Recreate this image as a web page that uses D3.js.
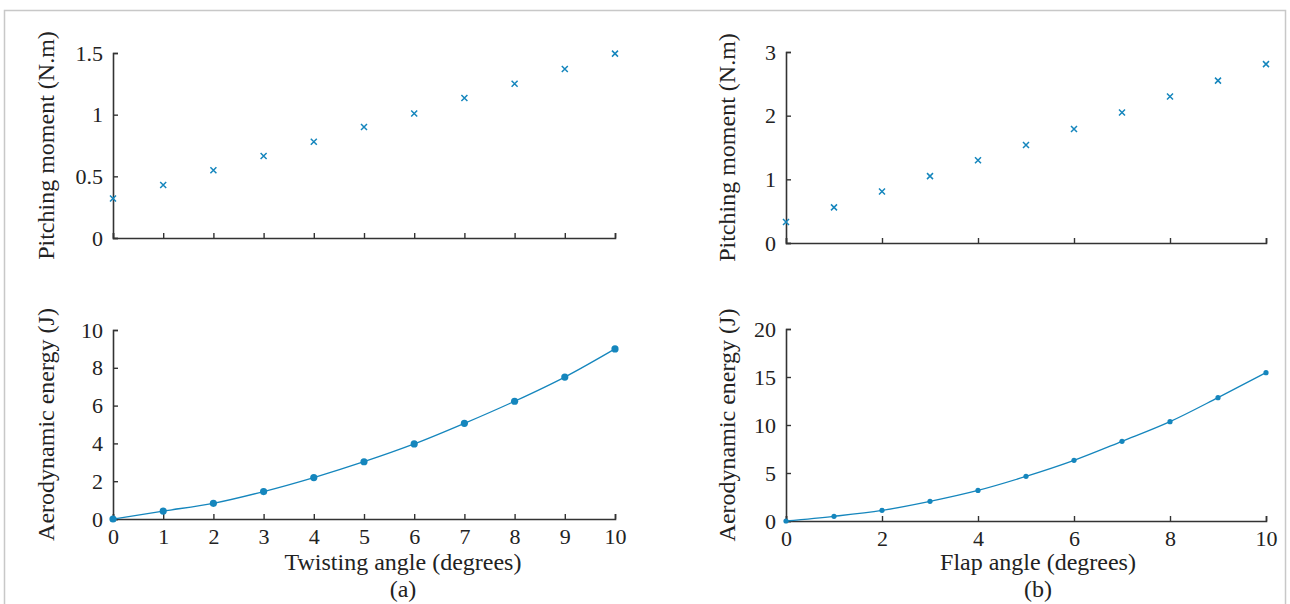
<!DOCTYPE html>
<html>
<head>
<meta charset="utf-8">
<script src="https://cdn.jsdelivr.net/npm/d3@7"></script>
<style>
  body { margin: 0; background: #fff; }
  svg text { font-family: "Liberation Serif", "DejaVu Serif", serif; fill: #222; }
</style>
</head>
<body>
<div class="graph"></div>
<script>
//data
const angles = [0, 1, 2, 3, 4, 5, 6, 7, 8, 9, 10];
const twistMoment = [0.32, 0.43, 0.55, 0.665, 0.78, 0.90, 1.01, 1.135, 1.25, 1.37, 1.495];
const twistEnergy = [0, 0.42, 0.83, 1.45, 2.19, 3.03, 3.97, 5.06, 6.23, 7.51, 9.0];
const flapMoment = [0.33, 0.56, 0.81, 1.05, 1.30, 1.54, 1.79, 2.05, 2.30, 2.55, 2.81];
const flapEnergy = [0, 0.49, 1.11, 2.05, 3.19, 4.65, 6.32, 8.30, 10.35, 12.85, 15.45];

const twistXTicks = [0, 1, 2, 3, 4, 5, 6, 7, 8, 9, 10];
const flapXTicks = [0, 2, 4, 6, 8, 10];
const twistMomentTicks = [0, 0.5, 1, 1.5];
const flapMomentTicks = [0, 1, 2, 3];
const twistEnergyTicks = [0, 2, 4, 6, 8, 10];
const flapEnergyTicks = [0, 5, 10, 15, 20];

const BLUE = "#1586bd";
const AXIS = "#333";
const fmt = d3.format("~g");

const svg = d3.select(".graph").append("svg")
    .attr("width", 1290)
    .attr("height", 604);

//light frame round the figure
svg.append("rect")
    .attr("x", 4.5).attr("y", 10.5)
    .attr("width", 1281).attr("height", 610)
    .attr("fill", "none")
    .attr("stroke", "#c8c8c8")
    .attr("stroke-width", 1.5);

function panel(opt) {
    const x = d3.scaleLinear().domain([0, 10]).range(opt.xr);
    const y = d3.scaleLinear().domain(opt.yd).range(opt.yr);
    const g = svg.append("g");

    const xAxis = g.append("g")
        .attr("transform", `translate(0, ${opt.yr[0]})`)
        .call(d3.axisBottom(x).tickValues(opt.xt).tickSize(-5).tickPadding(9)
            .tickFormat(opt.xlabels ? fmt : ""));
    const yAxis = g.append("g")
        .attr("transform", `translate(${opt.xr[0]}, 0)`)
        .call(d3.axisLeft(y).tickValues(opt.yt).tickSize(-5).tickPadding(10).tickFormat(fmt));

    [xAxis, yAxis].forEach(a => {
        a.select(".domain").attr("stroke", AXIS).attr("stroke-width", 1.6);
        a.selectAll(".tick line").attr("stroke", AXIS).attr("stroke-width", 1.4);
        a.selectAll(".tick text").attr("font-size", 22).attr("fill", "#222")
            .attr("font-family", "Liberation Serif, serif");
    });

    const pts = angles.map((a, i) => ({a: a, v: opt.vals[i]}));

    if (opt.kind === "cross") {
        const s = 3;
        g.selectAll("path.cross")
            .data(pts)
            .enter()
            .append("path")
                .attr("class", "cross")
                .attr("d", d => {
                    const cx = x(d.a), cy = y(d.v);
                    return `M${cx-s},${cy-s}L${cx+s},${cy+s}M${cx-s},${cy+s}L${cx+s},${cy-s}`;
                })
                .attr("stroke", BLUE)
                .attr("stroke-width", 1.5)
                .attr("fill", "none");
    } else {
        const line = d3.line()
            .curve(d3.curveMonotoneX)
            .x(d => x(d.a))
            .y(d => y(d.v));
        g.append("path")
            .datum(pts)
            .attr("d", line)
            .attr("fill", "none")
            .attr("stroke", BLUE)
            .attr("stroke-width", 1.3);
        g.selectAll("circle")
            .data(pts)
            .enter()
            .append("circle")
                .attr("cx", d => x(d.a))
                .attr("cy", d => y(d.v))
                .attr("r", opt.r)
                .attr("fill", BLUE);
    }

    //y axis title
    g.append("text")
        .attr("transform", `translate(${opt.ytx}, ${(opt.yr[0] + opt.yr[1]) / 2}) rotate(-90)`)
        .attr("text-anchor", "middle")
        .attr("font-size", 24)
        .text(opt.ytitle);

    if (opt.xtitle) {
        g.append("text")
            .attr("x", opt.xtx)
            .attr("y", 570)
            .attr("text-anchor", "middle")
            .attr("font-size", 24)
            .text(opt.xtitle);
        g.append("text")
            .attr("x", opt.xtx)
            .attr("y", 597)
            .attr("text-anchor", "middle")
            .attr("font-size", 24)
            .text(opt.tag);
    }
}

panel({xr: [113, 615], yd: [0, 1.5], yr: [238, 53], xt: twistXTicks, yt: twistMomentTicks,
    xlabels: false, vals: twistMoment, kind: "cross",
    ytitle: "Pitching moment (N.m)", ytx: 54});
panel({xr: [786, 1266], yd: [0, 3], yr: [243, 52], xt: flapXTicks, yt: flapMomentTicks,
    xlabels: false, vals: flapMoment, kind: "cross",
    ytitle: "Pitching moment (N.m)", ytx: 735});
panel({xr: [113, 615], yd: [0, 10], yr: [519, 330], xt: twistXTicks, yt: twistEnergyTicks,
    xlabels: true, vals: twistEnergy, kind: "dot", r: 3.6,
    ytitle: "Aerodynamic energy (J)", ytx: 54,
    xtitle: "Twisting angle (degrees)", xtx: 403, tag: "(a)"});
panel({xr: [786, 1266], yd: [0, 20], yr: [521, 329], xt: flapXTicks, yt: flapEnergyTicks,
    xlabels: true, vals: flapEnergy, kind: "dot", r: 2.6,
    ytitle: "Aerodynamic energy (J)", ytx: 735,
    xtitle: "Flap angle (degrees)", xtx: 1038, tag: "(b)"});
</script>
</body>
</html>
